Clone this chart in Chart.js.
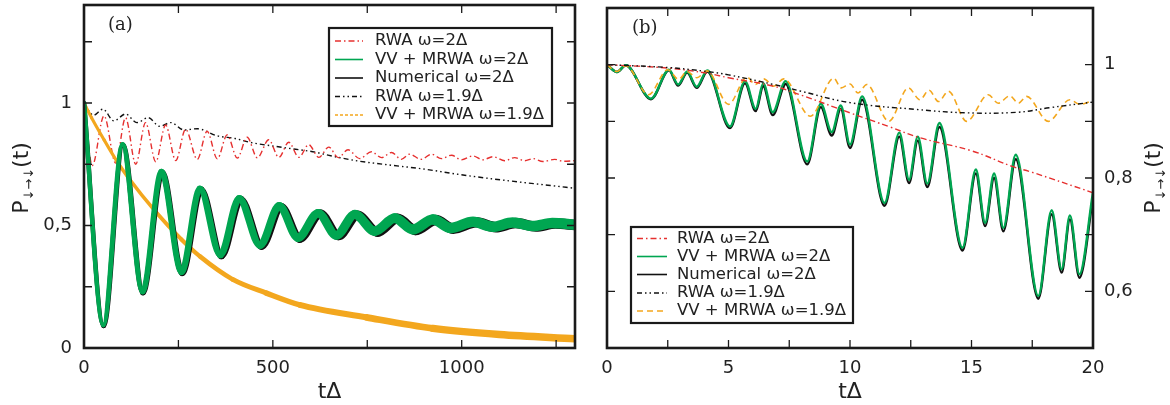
<!DOCTYPE html>
<html>
<head>
<meta charset="utf-8">
<script src="https://cdn.jsdelivr.net/npm/chart.js@4.4.1/dist/chart.umd.min.js"></script>
<style>
  html, body { margin: 0; padding: 0; background: #fff; }
  #wrap { position: relative; width: 1170px; height: 405px; }
  #wrap canvas { position: absolute; top: 0; }
</style>
</head>
<body>
<div id="wrap">
  <canvas id="chartA" width="590" height="405" style="left:0"></canvas>
  <canvas id="chartB" width="580" height="405" style="left:590px"></canvas>
</div>
<script>
// legend labels (same for both panels)
const seriesLabels = ['RWA ω=2Δ', 'VV + MRWA ω=2Δ', 'Numerical ω=2Δ', 'RWA ω=1.9Δ', 'VV + MRWA ω=1.9Δ'];

// panel (a) ticks
const aXTicks = [0, 500, 1000];
const aXMinor = [250, 750, 1250];
const aYTicks = [0, 0.5, 1];
const aYMinor = [0.25, 0.75, 1.25];

// panel (b) ticks
const bXTicks = [0, 5, 10, 15, 20];
const bXMinor = [2.5, 7.5, 12.5, 17.5];
const bYTicks = [0.6, 0.8, 1];
const bYMinor = [0.7, 0.9];

// panel (a) series, [tΔ, P]
const aRwa2 = [[0,1],[22,0.745],[53,0.948],[84,0.755],[110,0.94],[137,0.75],[163,0.92],[190,0.76],[216,0.91],[243,0.765],[269,0.893],[300,0.77],[326,0.885],[353,0.772],[379,0.87],[406,0.775],[432,0.86],[459,0.776],[489,0.85],[516,0.778],[542,0.84],[569,0.778],[595,0.83],[622,0.778],[648,0.82],[673,0.777],[699,0.809],[730,0.773],[761,0.801],[788,0.777],[814,0.798],[840,0.77],[862,0.791],[893,0.77],[920,0.791],[946,0.773],[973,0.787],[999,0.768],[1030,0.784],[1056,0.768],[1083,0.781],[1114,0.764],[1140,0.777],[1167,0.764],[1189,0.773],[1215,0.761],[1246,0.77],[1270,0.762],[1300,0.765]];
const aVv2 = [[0,1],[51,0.094],[102,0.83],[155,0.23],[205,0.72],[258,0.31],[307,0.65],[361,0.38],[411,0.61],[466,0.42],[517,0.58],[566,0.45],[620,0.55],[668,0.46],[717,0.545],[770,0.477],[823,0.53],[871,0.484],[924,0.525],[971,0.49],[1030,0.515],[1082,0.495],[1135,0.512],[1188,0.498],[1240,0.51],[1300,0.503]];
const aNum2 = [[0,1],[52,0.09],[103,0.828],[156,0.226],[207,0.716],[260,0.306],[310,0.646],[364,0.376],[415,0.606],[470,0.416],[522,0.576],[571,0.446],[626,0.548],[674,0.458],[724,0.542],[777,0.473],[830,0.528],[878,0.481],[931,0.522],[978,0.487],[1038,0.513],[1090,0.493],[1143,0.51],[1196,0.496],[1248,0.508],[1300,0.502]];
const aRwa19 = [[0,1],[25,0.95],[50,0.975],[79,0.927],[110,0.955],[140,0.92],[170,0.94],[200,0.905],[230,0.92],[265,0.89],[300,0.895],[353,0.866],[400,0.855],[441,0.839],[529,0.818],[617,0.798],[646,0.787],[723,0.764],[814,0.746],[902,0.73],[990,0.709],[1078,0.691],[1167,0.675],[1300,0.652]];
const aVv19 = [[0,1],[20,0.94],[53,0.85],[88,0.76],[115,0.7],[192,0.552],[258,0.443],[307,0.374],[395,0.279],[483,0.224],[571,0.176],[748,0.125],[924,0.08],[1100,0.055],[1300,0.038]];

// panel (b) series, [tΔ, P]
const bRwa2 = [[0,1],[2.5,0.994],[4.1,0.985],[5,0.977],[6.86,0.962],[8,0.946],[10,0.915],[11.65,0.89],[12.88,0.871],[15,0.848],[16.7,0.82],[17.5,0.81],[20,0.774]];
const bVv2 = [[0,1],[0.41,0.987],[0.77,0.999],[1.81,0.94],[2.55,0.991],[2.93,0.965],[3.3,0.988],[3.69,0.961],[4.13,0.99],[5.06,0.891],[5.68,0.971],[6.12,0.922],[6.43,0.967],[6.82,0.916],[7.35,0.971],[8.24,0.829],[8.8,0.931],[9.25,0.881],[9.62,0.928],[10,0.859],[10.5,0.944],[11.42,0.756],[12.03,0.88],[12.43,0.797],[12.79,0.873],[13.18,0.79],[13.68,0.897],[14.63,0.677],[15.18,0.815],[15.56,0.721],[15.93,0.808],[16.31,0.712],[16.82,0.841],[17.75,0.592],[18.3,0.743],[18.71,0.639],[19.05,0.734],[19.44,0.63],[20,0.775]];
const bNum2 = [[0,1],[0.41,0.987],[0.77,0.999],[1.81,0.939],[2.55,0.99],[2.93,0.963],[3.3,0.986],[3.69,0.959],[4.13,0.988],[5.06,0.888],[5.68,0.967],[6.12,0.918],[6.43,0.962],[6.82,0.911],[7.35,0.966],[8.24,0.824],[8.8,0.925],[9.25,0.875],[9.62,0.922],[10,0.853],[10.5,0.938],[11.42,0.751],[12.03,0.873],[12.43,0.791],[12.79,0.866],[13.18,0.784],[13.68,0.89],[14.63,0.672],[15.18,0.808],[15.56,0.715],[15.93,0.8],[16.31,0.706],[16.82,0.833],[17.75,0.587],[18.3,0.736],[18.71,0.633],[19.05,0.727],[19.44,0.624],[20,0.766]];
const bRwa19 = [[0,1],[2.5,0.995],[4.1,0.988],[5,0.982],[6.86,0.965],[8,0.953],[10,0.933],[12.74,0.921],[14.8,0.915],[16.9,0.916],[18.2,0.924],[20,0.934]];
const bVv19 = [[0,1],[0.41,0.988],[0.77,0.998],[1.71,0.947],[2.5,0.991],[2.95,0.974],[3.29,0.988],[3.7,0.977],[4.12,0.989],[5.0,0.93],[5.76,0.978],[6.1,0.965],[6.45,0.975],[6.86,0.962],[7.27,0.975],[8.37,0.909],[9.33,0.976],[9.64,0.959],[10.0,0.966],[10.33,0.95],[10.69,0.965],[11.6,0.9],[12.4,0.959],[12.88,0.938],[13.25,0.955],[13.64,0.935],[14.05,0.953],[14.8,0.9],[15.69,0.947],[16.1,0.932],[16.58,0.945],[16.93,0.932],[17.27,0.944],[18.16,0.9],[19.05,0.938],[19.47,0.93],[20,0.937]];

const RED = '#e6302f', GREEN = '#00a651', BLACK = '#111111', ORANGE = '#f3a71e', INK = '#222222';
const DASH_DOT = [6, 3, 1.5, 3];
const DASH_DOT_DOT = [5, 3, 1.5, 3, 1.5, 3];

Chart.defaults.font.family = '"DejaVu Sans"';
Chart.defaults.color = INK;

const pts = arr => arr.map(([x, y]) => ({ x, y }));
const fmt = v => String(v).replace('.', ',');
// noisy band in (a) gets wider as the fast oscillation grows
const band = (lo, hi) => ({ borderWidth: c => lo + (hi - lo) * Math.min(1, c.p0.parsed.x / 900) });

function drawYTitle(ctx, bx, cy) {
    ctx.save();
    ctx.translate(bx, cy);
    ctx.rotate(-Math.PI / 2);
    const big = '22px "DejaVu Sans"', small = '13px "DejaVu Sans"';
    ctx.font = big;
    const wP = ctx.measureText('P').width, wT = ctx.measureText('(t)').width;
    ctx.font = small;
    const wS = ctx.measureText('↓→↓').width;
    let x = -(wP + wS + wT) / 2;
    ctx.fillStyle = INK;
    ctx.textBaseline = 'alphabetic';
    ctx.font = big; ctx.fillText('P', x, 0); x += wP;
    ctx.font = small; ctx.fillText('↓→↓', x, 5); x += wS;
    ctx.font = big; ctx.fillText('(t)', x, 0);
    ctx.restore();
}

const framePlugin = {
    id: 'frame',
    afterDatasetsDraw(chart, args, opts) {
        const { ctx, chartArea: a, scales: { x, y } } = chart;
        ctx.save();
        // inward tick marks on all four sides
        ctx.strokeStyle = '#1a1a1a';
        ctx.lineWidth = 1.3;
        ctx.beginPath();
        opts.xMarks.forEach(v => {
            const px = x.getPixelForValue(v);
            ctx.moveTo(px, a.bottom); ctx.lineTo(px, a.bottom - 8);
            ctx.moveTo(px, a.top); ctx.lineTo(px, a.top + 8);
        });
        opts.yMarks.forEach(v => {
            const py = y.getPixelForValue(v);
            ctx.moveTo(a.left, py); ctx.lineTo(a.left + 8, py);
            ctx.moveTo(a.right, py); ctx.lineTo(a.right - 8, py);
        });
        ctx.stroke();
        ctx.lineWidth = 2.6;
        ctx.strokeRect(a.left, a.top, a.width, a.height);

        // legend box
        const L = opts.legend;
        ctx.fillStyle = '#fff';
        ctx.fillRect(L.x, L.y, L.w, L.h);
        ctx.lineWidth = 2.2;
        ctx.strokeRect(L.x, L.y, L.w, L.h);
        ctx.font = '16.5px "DejaVu Sans"';
        ctx.textBaseline = 'middle';
        chart.data.datasets.forEach((ds, i) => {
            const ry = L.rows[i];
            ctx.strokeStyle = ds.borderColor;
            ctx.lineWidth = 1.6;
            ctx.setLineDash(L.dashes[i]);
            ctx.beginPath();
            ctx.moveTo(L.x0, ry); ctx.lineTo(L.x1, ry);
            ctx.stroke();
            ctx.setLineDash([]);
            ctx.fillStyle = INK;
            ctx.fillText(ds.label, L.tx, ry);
        });

        // panel tag and axis titles
        ctx.font = '18px "DejaVu Serif"';
        ctx.fillText(opts.tag, opts.tagX, opts.tagY);
        ctx.font = '22px "DejaVu Sans"';
        ctx.textAlign = 'center';
        ctx.fillText('tΔ', (a.left + a.right) / 2, 392);
        ctx.restore();
        drawYTitle(ctx, opts.yTitleX, 178);
    }
};

function scalesFor(xMin, xMax, xTicks, yMin, yMax, yTicks, yPos, yWidth, yPad) {
    return {
        x: {
            type: 'linear', min: xMin, max: xMax,
            grid: { display: false, drawTicks: false }, border: { display: false },
            ticks: { font: { size: 18 }, padding: 10, maxRotation: 0, autoSkip: false, callback: fmt },
            afterBuildTicks: s => { s.ticks = xTicks.map(v => ({ value: v })); },
            afterFit: s => { s.height = 57; s.paddingLeft = 0; s.paddingRight = 0; }
        },
        y: {
            type: 'linear', min: yMin, max: yMax, position: yPos,
            grid: { display: false, drawTicks: false }, border: { display: false },
            ticks: { font: { size: 18 }, padding: yPad, callback: fmt },
            afterBuildTicks: s => { s.ticks = yTicks.map(v => ({ value: v })); },
            afterFit: s => { s.width = yWidth; s.paddingTop = 0; s.paddingBottom = 0; }
        }
    };
}

// panel (a)
new Chart(document.getElementById('chartA'), {
    type: 'line',
    data: {
        datasets: [
            { label: seriesLabels[0], data: pts(aRwa2), borderColor: RED, borderWidth: 1.4, borderDash: DASH_DOT, cubicInterpolationMode: 'monotone', order: 4 },
            { label: seriesLabels[1], data: pts(aVv2), borderColor: GREEN, borderWidth: 5, borderCapStyle: 'round', segment: band(4.5, 10.5), cubicInterpolationMode: 'monotone', order: 1 },
            { label: seriesLabels[2], data: pts(aNum2), borderColor: BLACK, borderWidth: 5, borderCapStyle: 'round', segment: band(4.5, 10.5), cubicInterpolationMode: 'monotone', order: 2 },
            { label: seriesLabels[3], data: pts(aRwa19), borderColor: BLACK, borderWidth: 1.4, borderDash: DASH_DOT_DOT, cubicInterpolationMode: 'monotone', order: 5 },
            { label: seriesLabels[4], data: pts(aVv19), borderColor: ORANGE, borderWidth: 3.5, borderCapStyle: 'round', segment: band(3, 7.5), cubicInterpolationMode: 'monotone', order: 3 }
        ]
    },
    options: {
        responsive: false,
        animation: false,
        layout: { padding: { top: 5, right: 15, left: 0, bottom: 0 } },
        elements: { point: { radius: 0 } },
        plugins: {
            legend: { display: false },
            tooltip: { enabled: false },
            frame: {
                xMarks: aXTicks.concat(aXMinor), yMarks: aYTicks.concat(aYMinor),
                tag: '(a)', tagX: 108, tagY: 25, yTitleX: 28,
                legend: {
                    x: 329, y: 28, w: 223, h: 98, x0: 335, x1: 363, tx: 375,
                    rows: [41, 59.5, 78, 96.5, 115],
                    dashes: [DASH_DOT, [], [], DASH_DOT_DOT, [3, 2]]
                }
            }
        },
        scales: scalesFor(0, 1300, aXTicks, 0, 1.4, aYTicks, 'left', 84, 12)
    },
    plugins: [framePlugin]
});

// panel (b)
new Chart(document.getElementById('chartB'), {
    type: 'line',
    data: {
        datasets: [
            { label: seriesLabels[0], data: pts(bRwa2), borderColor: RED, borderWidth: 1.4, borderDash: DASH_DOT, tension: 0.4, order: 2 },
            { label: seriesLabels[1], data: pts(bVv2), borderColor: GREEN, borderWidth: 2.4, cubicInterpolationMode: 'monotone', order: 4 },
            { label: seriesLabels[2], data: pts(bNum2), borderColor: BLACK, borderWidth: 2.4, cubicInterpolationMode: 'monotone', order: 5 },
            { label: seriesLabels[3], data: pts(bRwa19), borderColor: BLACK, borderWidth: 1.4, borderDash: DASH_DOT_DOT, tension: 0.4, order: 1 },
            { label: seriesLabels[4], data: pts(bVv19), borderColor: ORANGE, borderWidth: 1.6, borderDash: [6, 4], cubicInterpolationMode: 'monotone', order: 3 }
        ]
    },
    options: {
        responsive: false,
        animation: false,
        layout: { padding: { top: 8, right: 0, left: 17, bottom: 0 } },
        elements: { point: { radius: 0 } },
        plugins: {
            legend: { display: false },
            tooltip: { enabled: false },
            frame: {
                xMarks: bXTicks.concat(bXMinor), yMarks: bYTicks.concat(bYMinor),
                tag: '(b)', tagX: 42, tagY: 28, yTitleX: 570,
                legend: {
                    x: 41, y: 227, w: 222, h: 96, x0: 47, x1: 77, tx: 87,
                    rows: [238.5, 256.5, 274.5, 293, 311],
                    dashes: [DASH_DOT, [], [], DASH_DOT_DOT, [6, 4]]
                }
            }
        },
        scales: scalesFor(0, 20, bXTicks, 0.5, 1.1, bYTicks, 'right', 77, 11)
    },
    plugins: [framePlugin]
});
</script>
</body>
</html>
